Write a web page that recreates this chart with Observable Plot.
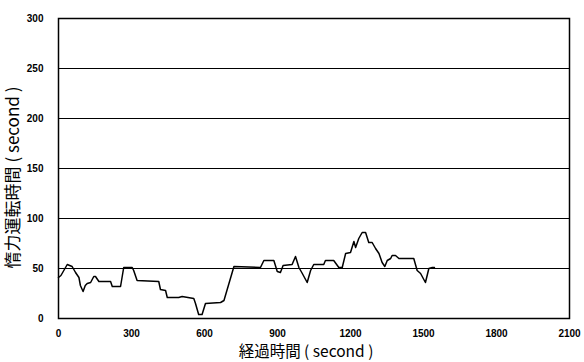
<!DOCTYPE html>
<html><head><meta charset="utf-8">
<script src="https://cdn.jsdelivr.net/npm/d3@7"></script>
<script src="https://cdn.jsdelivr.net/npm/@observablehq/plot@0.6"></script>
<style>
body{margin:0;background:#fff;}
svg{display:block;}
</style>
</head><body>
<div id="chart"></div>
<script>
const times = [0, 10, 36, 56, 70, 84, 90, 101, 110, 118, 132, 145, 152, 166, 214, 221, 255, 268, 303, 309, 323, 412, 419, 440, 447, 494, 508, 556, 563, 576, 590, 604, 666, 680, 721, 830, 844, 872, 885, 899, 912, 923, 960, 974, 988, 1002, 1022, 1036, 1049, 1090, 1097, 1131, 1152, 1166, 1180, 1200, 1214, 1221, 1234, 1248, 1262, 1275, 1289, 1303, 1317, 1330, 1341, 1351, 1365, 1371, 1385, 1399, 1460, 1474, 1488, 1508, 1522, 1536, 1545];
const values = [41, 43, 54, 52, 46, 41, 33, 27, 33, 35, 36, 42, 42, 37, 37, 32, 32, 51, 51, 48, 38, 37, 29, 28, 21, 21, 22, 20, 15, 4, 4, 15, 16, 18, 52, 51, 58, 58, 58, 47, 46, 53, 54, 62, 51, 45, 36, 48, 54, 54, 58, 58, 51, 51, 65, 66, 77, 71, 80, 86, 86, 76, 76, 70, 65, 56, 52, 58, 60, 63, 63, 60, 60, 48, 45, 36, 50, 51, 51];
const xTicks = [0, 300, 600, 900, 1200, 1500, 1800, 2100];
const yTicks = [0, 50, 100, 150, 200, 250, 300];
const gridValues = [50, 100, 150, 200, 250];
const xTitle = "経過時間 ( second )";
const yTitle = "惰力運転時間 ( second )";

const data = times.map((t, i) => ({t, v: values[i]}));

const chart = Plot.plot({
  width: 584,
  height: 362,
  marginLeft: 58,
  marginRight: 15,
  marginTop: 18,
  marginBottom: 44,
  style: {fontFamily: "'Liberation Sans', Arial, sans-serif", background: "#fff", color: "#000"},
  x: {domain: [0, 2100]},
  y: {domain: [0, 300]},
  marks: [
    Plot.ruleY(gridValues, {stroke: "#000", strokeWidth: 1}),
    Plot.frame({stroke: "#000", strokeWidth: 1.5}),
    Plot.axisX({ticks: xTicks, tickFormat: d => String(d), tickSize: 0, tickPadding: 11, fontSize: 10, fontWeight: "bold", label: null}),
    Plot.axisY({ticks: yTicks, tickFormat: d => String(d), tickSize: 0, tickPadding: 15, fontSize: 10, fontWeight: "bold", label: null}),
    Plot.line(data, {x: "t", y: "v", stroke: "#000", strokeWidth: 1.5, curve: "linear"}),
    Plot.text([xTitle], {frameAnchor: "bottom", dx: -8, dy: 38, fontSize: 15.5, fontFamily: "'Noto Sans CJK JP', sans-serif", fill: "#000"}),
    Plot.text([yTitle], {frameAnchor: "left", textAnchor: "middle", dx: -45, dy: 9, rotate: -90, fontSize: 17, fontFamily: "'Noto Sans CJK JP', sans-serif", fill: "#000"})
  ]
});
document.getElementById("chart").appendChild(chart);
</script>
</body></html>
